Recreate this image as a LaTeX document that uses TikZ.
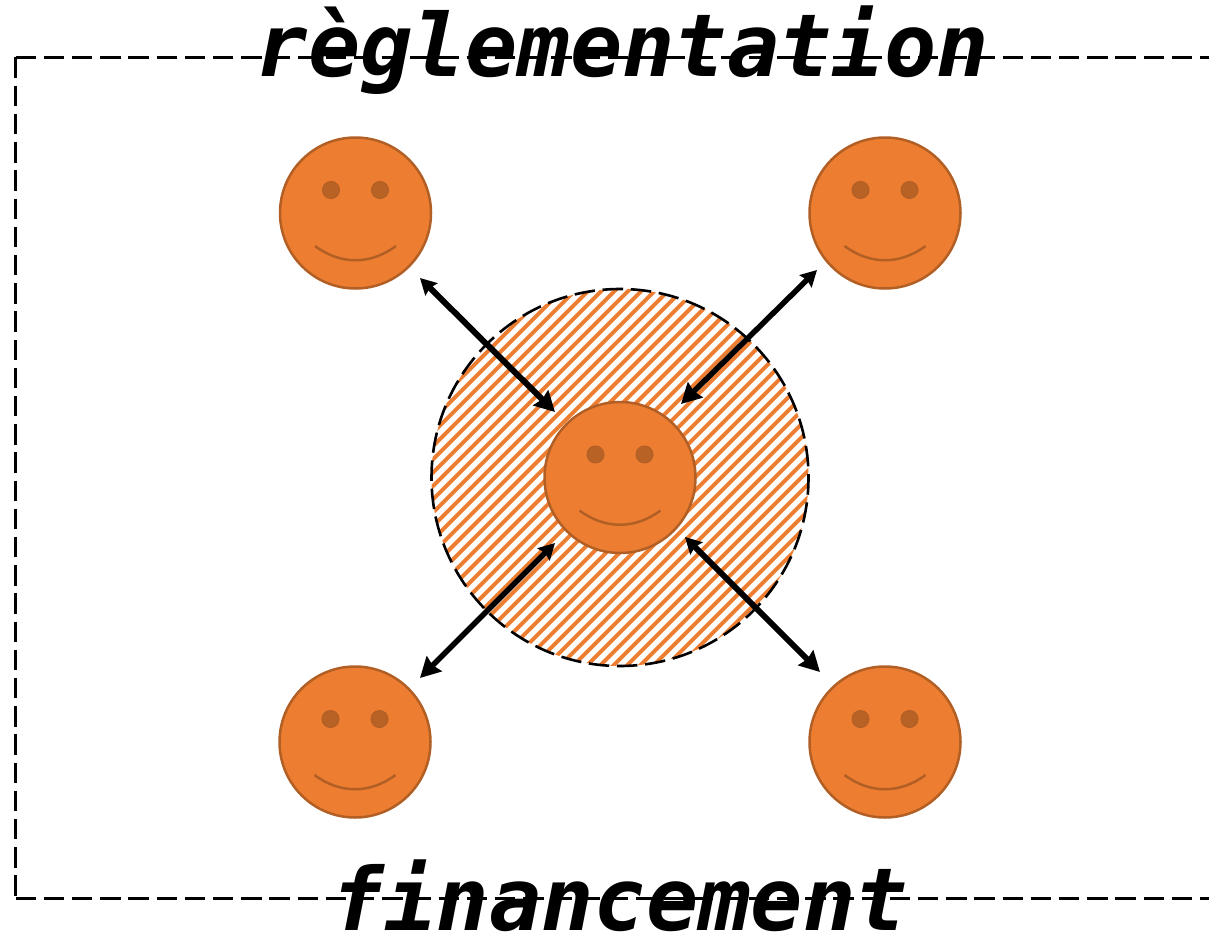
\documentclass[tikz,border=0pt]{standalone}
\usepackage{fontspec}
\newfontfamily\labelfont{DejaVu Sans Mono}
\usetikzlibrary{arrows.meta}
\usetikzlibrary{positioning}
\usetikzlibrary{calc}
\definecolor{faceorange}{HTML}{ED7D31}
\definecolor{facedark}{HTML}{B25F25}
\tikzset{
    face/.style={circle, draw=facedark, fill=faceorange, line width=2.5, minimum size=151, inner sep=0pt},
    eye/.style={circle, draw=facedark, fill=facedark!90!faceorange, line width=1, minimum size=17, inner sep=0pt},
    link/.style={{Stealth[length=16,width=17,inset=2]}-{Stealth[length=20,width=21,inset=2]}, line width=5.5},
    frame/.style={line width=2.6, dash pattern=on 20.5 off 7.7},
    banner/.style={font=\labelfont\fontsize{87}{87}\selectfont\bfseries\itshape, inner sep=0pt, anchor=base}
}
\newcommand{\drawsmile}[1]{
    \node[eye] (#1_l) at ($(#1)+(-24.5,-23)$) {};
    \node[eye] (#1_r) at ($(#1)+(24.5,-23)$) {};
    \draw[facedark, line width=2.5] ($(#1)+(-40.5,33)$) .. controls ($(#1)+(-15,52)$) and ($(#1)+(15,52)$) .. ($(#1)+(40.5,33)$);
}
\begin{document}
\begin{tikzpicture}[x=1,y=-1]
    \useasboundingbox (0,0) rectangle (1209,950);

    \coordinate (frame_a) at (1209,57.5);
    \coordinate (frame_b) at (15.5,57.5);
    \coordinate (frame_c) at (15.5,898.5);
    \coordinate (frame_d) at (1209,898.5);
    \draw[frame] (frame_b) -- (frame_a);
    \draw[frame] (frame_b) -- (frame_c);
    \draw[frame] (frame_c) -- (frame_d);

    % hatched zone
    \coordinate (center) at (620,477.5);
    \begin{scope}
        \clip (center) circle (188.5);
        \foreach \i in {-30,...,30}
            \draw[faceorange, line width=3.9] ($(center)+(-300,300)+(\i*13.33-5.2,0)$) -- ($(center)+(300,-300)+(\i*13.33-5.2,0)$);
    \end{scope}
    \draw[frame] ($(center)+(-1:188.5)$) arc[start angle=-1, end angle=359, radius=188.5];

    \node[face] (me) at (center) {};
    \node[face] (face_tl) at (355.5,213) {};
    \node[face] (face_tr) at (885,213) {};
    \node[face] (face_bl) at (355,742) {};
    \node[face] (face_br) at (885,742) {};
    \drawsmile{me}
    \drawsmile{face_tl}
    \drawsmile{face_tr}
    \drawsmile{face_bl}
    \drawsmile{face_br}

    \coordinate (tl_out) at (420,278);
    \coordinate (tl_in) at (555,412);
    \coordinate (tr_out) at (817,270);
    \coordinate (tr_in) at (681,404);
    \coordinate (bl_out) at (420,678);
    \coordinate (bl_in) at (555,543);
    \coordinate (br_out) at (820,672);
    \coordinate (br_in) at (685,537);

    \draw[link, line width=6] (tl_out) -- (tl_in);
    \draw[link] (tr_out) -- (tr_in);
    \draw[link] (bl_in) -- (bl_out);
    \draw[link, line width=6] (br_in) -- (br_out);

    \node[banner] (reg) at (622.5,76) {règlementation};
    \node[banner] (fin) at (620,930) {financement};
\end{tikzpicture}
\end{document}
